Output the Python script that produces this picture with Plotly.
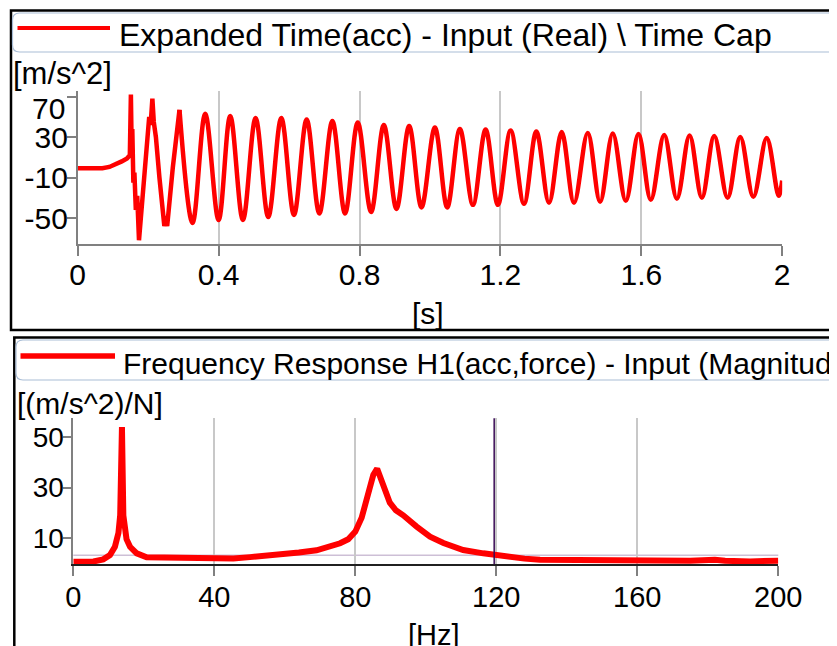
import plotly.graph_objects as go

# page is 837x646; the browser adds an 8px body margin, so the figure is 829x638
W, H = 829, 638
OFF = 8
FONT = "Liberation Sans"
RED = "#ff0000"

# ---------------- data: expanded time signal (acc) ----------------
t_impact = [0.000, 0.040, 0.070, 0.090, 0.110, 0.125, 0.140, 0.148,
            0.151, 0.153, 0.155, 0.158, 0.161, 0.165, 0.169, 0.174, 0.179, 0.184,
            0.195, 0.203, 0.207, 0.212, 0.216, 0.222, 0.232, 0.240, 0.246, 0.250,
            0.254, 0.270, 0.283, 0.289]
acc_impact = [-0.8, -1.0, -0.8, 0.5, 3.0, 6.0, 9.0, 12.0,
              72.0, 25.0, 38.0, -15.0, -5.0, -42.0, -28.0, -72.0, -52.0, -25.0,
              15.0, 50.0, 42.0, 68.0, 45.0, 30.0, -10.0, -45.0, -58.0, -48.0,
              -58.0, 0.0, 45.0, 57.0]

t_decay = [0.289, 0.326, 0.362, 0.400, 0.433, 0.469, 0.505, 0.541, 0.578, 0.614,
           0.650, 0.686, 0.723, 0.759, 0.795, 0.833, 0.869, 0.905, 0.941, 0.976,
           1.014, 1.049, 1.085, 1.122, 1.158, 1.193, 1.229, 1.267, 1.302, 1.338,
           1.374, 1.409, 1.448, 1.483, 1.519, 1.556, 1.592, 1.627, 1.665, 1.701,
           1.737, 1.772, 1.807, 1.845, 1.881, 1.918, 1.956, 1.990, 2.000]
acc_decay = [57.0, -55.0, 53.0, -52.0, 51.0, -52.0, 49.0, -49.0, 49.0, -47.0,
             47.5, -45.5, 46.0, -45.5, 44.5, -44.0, 42.0, -41.0, 41.0, -39.5,
             39.5, -39.5, 38.0, -37.0, 37.5, -37.0, 36.5, -36.0, 35.5, -35.0,
             35.0, -35.0, 34.0, -34.0, 33.5, -33.0, 33.0, -32.0, 32.0, -31.0,
             31.5, -30.0, 31.0, -30.0, 30.0, -29.0, 29.0, -28.0, -13.0]

# ---------------- data: frequency response H1 magnitude ----------------
freq_hz = [0, 3, 5.7, 8.5, 10.4, 11.8, 12.8, 13.3, 13.8, 14.2, 14.6, 15.1, 16.1,
           18, 20.8, 30.3, 45.4, 50.1, 59.6, 64, 69, 72.8, 75.7, 78, 80, 81.8,
           83.7, 85.1, 86.2, 87.9, 89.8, 91.5, 93.6, 97.4, 101.2, 105, 110.6,
           116.3, 119.4, 123.9, 128, 132.4, 140, 149.4, 157.9, 165, 173, 175,
           182, 184.9, 192, 197.6, 200]
h1_mag = [0.6, 0.6, 0.7, 1.5, 3.2, 6.5, 12.0, 19.0, 54.0, 19.0, 12.0, 9.5, 6.5,
          3.9, 2.3, 2.0, 1.9, 2.4, 3.4, 4.2, 5.1, 6.5, 7.9, 9.5, 12.5, 18.0,
          27.5, 35.0, 37.5, 31.5, 24.0, 21.0, 19.0, 14.5, 10.5, 8.0, 5.2,
          3.9, 3.2, 2.3, 1.8, 1.4, 1.3, 1.3, 1.0, 0.9, 0.7, 1.0,
          1.4, 1.0, 0.7, 1.2, 1.0]

top_xticks = [0, 0.4, 0.8, 1.2, 1.6, 2]
top_xticklabels = ["0", "0.4", "0.8", "1.2", "1.6", "2"]
top_yticks = [70, 30, -10, -50]
top_yticklabels = ["70", "30", "-10", "-50"]
bot_xticks = [0, 40, 80, 120, 160, 200]
bot_yticks = [10, 30, 50]
cursor_hz = 119.4
ref_level = 3.1

top_legend = "Expanded Time(acc) - Input (Real) \\ Time Cap"
bot_legend = "Frequency Response H1(acc,force) - Input (Magnitude)"
top_yunit = "[m/s^2]"
top_xunit = "[s]"
bot_yunit = "[(m/s^2)/N]"
bot_xunit = "[Hz]"


def px(x):
    return (x - OFF) / W


def py(y):
    return 1 - (y - OFF) / H


def rounded_rect(x0, y0, x1, y1, r):
    rx, ry = r / W, r / H
    X0, X1 = px(x0), px(x1)
    Y0, Y1 = py(y0), py(y1)  # Y0 top, Y1 bottom
    return (f"M {X0+rx},{Y0} L {X1-rx},{Y0} Q {X1},{Y0} {X1},{Y0-ry} "
            f"L {X1},{Y1+ry} Q {X1},{Y1} {X1-rx},{Y1} L {X0+rx},{Y1} "
            f"Q {X0},{Y1} {X0},{Y1+ry} L {X0},{Y0-ry} Q {X0},{Y0} {X0+rx},{Y0} Z")


fig = go.Figure()
fig.add_trace(go.Scatter(x=t_impact, y=acc_impact, mode="lines",
                         line=dict(color=RED, width=4.5),
                         xaxis="x", yaxis="y", showlegend=False, name="acc"))
fig.add_trace(go.Scatter(x=t_decay, y=acc_decay, mode="lines",
                         line=dict(color=RED, width=4.5, shape="spline", smoothing=1.0),
                         xaxis="x", yaxis="y", showlegend=False, name="acc"))
fig.add_trace(go.Scatter(x=freq_hz, y=h1_mag, mode="lines",
                         line=dict(color=RED, width=6),
                         xaxis="x2", yaxis="y2", showlegend=False, name="H1"))

common = dict(showline=True, linecolor="#808080", linewidth=1.5, ticks="outside",
              tickcolor="#808080", tickwidth=1.5, zeroline=False, fixedrange=True,
              automargin=False)

fig.update_layout(
    width=W, height=H, autosize=False,
    margin=dict(l=0, r=0, t=0, b=0, pad=0, autoexpand=False),
    paper_bgcolor="white", plot_bgcolor="white",
    xaxis=dict(domain=[px(77.7), px(782.2)], range=[0, 2], anchor="y",
               tickvals=top_xticks, ticktext=top_xticklabels, ticklen=10,
               ticklabelstandoff=-7,
               showgrid=True, gridcolor="#c8c8c8", gridwidth=1.5,
               tickfont=dict(family=FONT, size=30, color="black"), **common),
    yaxis=dict(domain=[py(244.3), py(91)], range=[-76, 75.6], anchor="x",
               tickvals=top_yticks, ticktext=[""] + top_yticklabels[1:],
               ticklen=9, ticklabelstandoff=-7, showgrid=False,
               tickfont=dict(family=FONT, size=30, color="black"), **common),
    xaxis2=dict(domain=[px(73.3), px(778.3)], range=[0, 200], anchor="y2",
                tickvals=bot_xticks, ticklen=10, ticklabelstandoff=-4,
                showgrid=True, gridcolor="#c8c8c8", gridwidth=1.5,
                tickfont=dict(family=FONT, size=29, color="black"),
                **{**common, "linecolor": "#202020"}),
    yaxis2=dict(domain=[py(564.3), py(418.3)], range=[-0.45, 57.5], anchor="x2",
                tickvals=bot_yticks, ticklen=9, ticklabelstandoff=-7, showgrid=False,
                tickfont=dict(family=FONT, size=28, color="black"), **common),
)

shapes = []
# panel frames
shapes.append(dict(type="rect", xref="paper", yref="paper",
                   x0=px(11), x1=px(860), y0=py(330), y1=py(10.5),
                   line=dict(color="black", width=2.5), fillcolor="rgba(0,0,0,0)"))
shapes.append(dict(type="rect", xref="paper", yref="paper",
                   x0=px(14.3), x1=px(860), y0=py(700), y1=py(337.5),
                   line=dict(color="black", width=2.5), fillcolor="rgba(0,0,0,0)"))
# legend boxes
shapes.append(dict(type="path", xref="paper", yref="paper",
                   path=rounded_rect(12.5, 13, 835.5, 52, 7),
                   line=dict(color="#a9bdd6", width=1.2), fillcolor="white"))
shapes.append(dict(type="path", xref="paper", yref="paper",
                   path=rounded_rect(16, 340, 836.5, 380, 7),
                   line=dict(color="#a9bdd6", width=1.2), fillcolor="white"))
# legend samples
shapes.append(dict(type="line", xref="paper", yref="paper",
                   x0=px(17.5), x1=px(110), y0=py(28), y1=py(28),
                   line=dict(color=RED, width=4)))
shapes.append(dict(type="line", xref="paper", yref="paper",
                   x0=px(20.5), x1=px(115), y0=py(356), y1=py(356),
                   line=dict(color=RED, width=5.5)))
# reference level and cursor in the frequency plot
shapes.append(dict(type="line", xref="x2 domain", yref="y2",
                   x0=0, x1=1, y0=ref_level, y1=ref_level,
                   line=dict(color="#cdbfd6", width=1.5), layer="below"))
shapes.append(dict(type="line", xref="x2", yref="y2 domain",
                   x0=cursor_hz, x1=cursor_hz, y0=0, y1=1,
                   line=dict(color="#3a0a55", width=1.5)))
fig.update_layout(shapes=shapes)

ann = []


def text(s, x, y, size, xanchor="left", yanchor="middle"):
    ann.append(dict(text=s, xref="paper", yref="paper", x=px(x), y=py(y),
                    xanchor=xanchor, yanchor=yanchor, showarrow=False,
                    font=dict(family=FONT, size=size, color="black")))


text(top_legend, 117, 35, 32)
text(bot_legend, 121, 363, 30)
text(top_yunit, 11, 74, 31)
text(top_xunit, 428, 314, 30, xanchor="center")
text(bot_yunit, 15, 403, 30)
text(bot_xunit, 434, 635, 29, xanchor="center")
# top tick label "70" sits lower than its tick, clear of the unit label
ann.append(dict(text=top_yticklabels[0], xref="paper", yref="y",
                x=px(67), y=top_yticks[0], yshift=-12,
                xanchor="right", yanchor="middle", showarrow=False,
                font=dict(family=FONT, size=30, color="black")))
fig.update_layout(annotations=ann)

fig.write_html("out.html")
